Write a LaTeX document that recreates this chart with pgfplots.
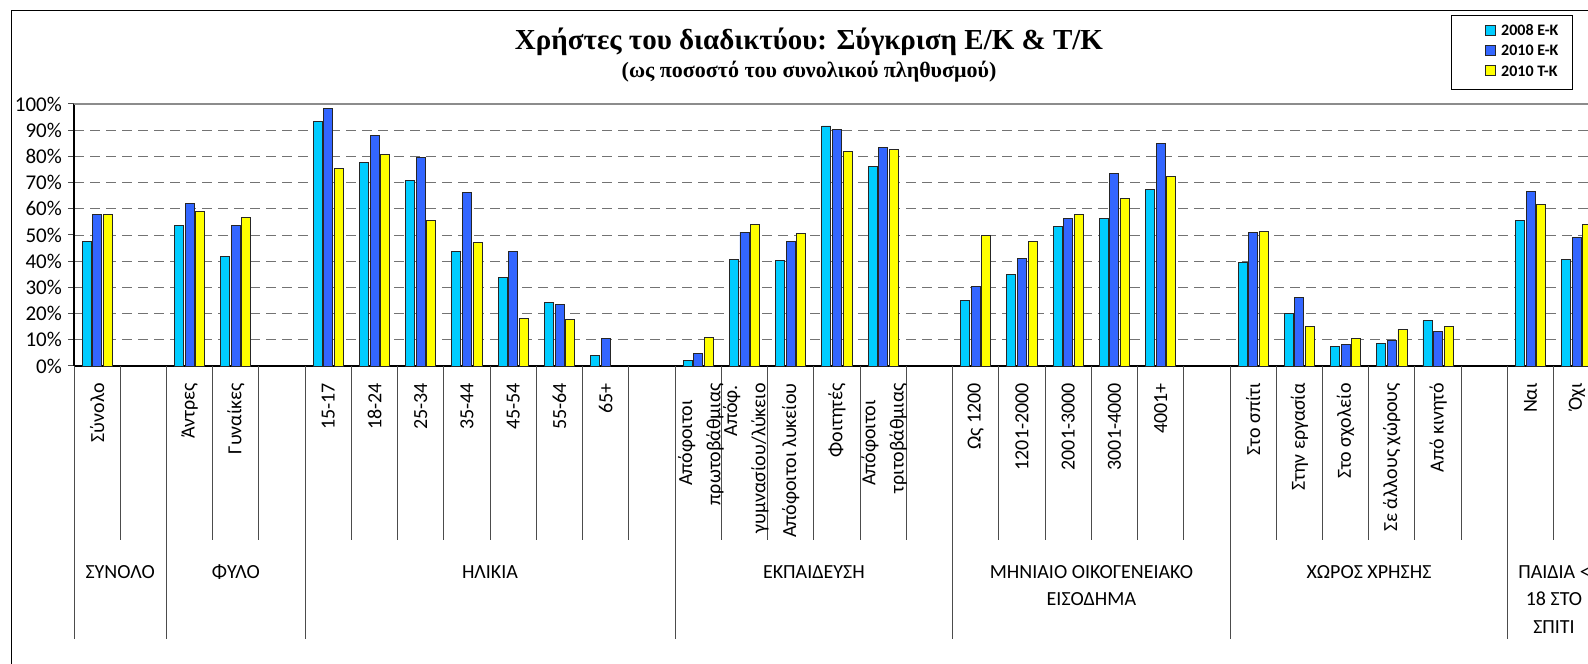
\documentclass[border=0pt]{standalone}
\usepackage{pgfplots}
\pgfplotsset{compat=1.18}
\usepackage{fontspec}
\setmainfont{Carlito}
\newfontfamily\titlefont{Liberation Serif}
\definecolor{c08}{HTML}{00CCFF}
\definecolor{c10}{HTML}{3366FF}
\definecolor{t10}{HTML}{FFFF00}
\newcommand\lbl{\fontsize{20bp}{24bp}\selectfont}

\begin{document}
\begin{tikzpicture}[x=1bp,y=1bp]
\useasboundingbox (0,0) rectangle (1588,664);
\clip (0,0) rectangle (1588,664);
% chart frame
\draw[line width=1bp] (11,-20) -- (11,653) -- (1620,653);

% title
\node[anchor=base, font=\titlefont\bfseries\fontsize{29bp}{34bp}\selectfont] at (809,614)
  {Χρήστες του διαδικτύου: Σύγκριση Ε/Κ \& Τ/Κ};
\node[anchor=base, font=\titlefont\bfseries\fontsize{22bp}{26bp}\selectfont] at (809,586)
  {(ως ποσοστό του συνολικού πληθυσμού)};

\begin{axis}[
  at={(74bp,298bp)}, anchor=south west,
  scale only axis, width=1572.16bp, height=262bp,
  xmin=-0.5, xmax=33.5, ymin=0, ymax=100,
  axis lines*=left,
  axis line style={line width=1.3bp, black},
  xtick=\empty,
  ytick={0,10,...,100},
  yticklabel={\pgfmathprintnumber{\tick}\%},
  /pgf/number format/assume math mode=true,
  yticklabel style={font=\fontsize{21bp}{25bp}\selectfont, anchor=east, inner sep=0pt, xshift=-6bp},
  tick align=outside, major tick length=6bp,
  ytick style={line width=1bp, black!70},
  ymajorgrids,
  grid style={black!55, line width=0.9bp, dash pattern=on 10bp off 6bp},
  ybar=1.6bp, bar width=9bp,
  every axis plot/.append style={draw=black!85, line width=0.9bp},
  clip=false,
]
\addplot[fill=c08] coordinates {
 (0,47.5) (2,53.7) (3,41.7) (5,93.3) (6,77.6) (7,70.9) (8,43.8) (9,33.8) (10,24.4) (11,4.1)
 (13,2.0) (14,40.6) (15,40.1) (16,91.6) (17,76.1)
 (19,24.9) (20,34.9) (21,53.2) (22,56.2) (23,67.2)
 (25,39.6) (26,20.2) (27,7.3) (28,8.7) (29,17.2)
 (31,55.7) (32,40.6)};
\addplot[fill=c10] coordinates {
 (0,57.9) (2,62.1) (3,53.7) (5,98.3) (6,88.0) (7,79.6) (8,66.2) (9,43.8) (10,23.4) (11,10.4)
 (13,4.6) (14,51.0) (15,47.5) (16,90.1) (17,83.3)
 (19,30.2) (20,41.1) (21,56.2) (22,73.4) (23,85.0)
 (25,51.0) (26,26.1) (27,8.3) (28,9.9) (29,13.0)
 (31,66.7) (32,49.0)};
\addplot[fill=t10] coordinates {
 (0,57.9) (2,58.8) (3,56.7) (5,75.4) (6,80.8) (7,55.7) (8,47.3) (9,18.2) (10,17.7)
 (13,10.9) (14,54.1) (15,50.5) (16,81.8) (17,82.7)
 (19,49.9) (20,47.5) (21,57.8) (22,64.0) (23,72.3)
 (25,51.5) (26,15.0) (27,10.4) (28,14.0) (29,15.0)
 (31,61.5) (32,54.1)};
\draw[black!45, line width=1.2bp] (axis cs:-0.5,100) -- (axis cs:33.5,100);
\end{axis}

% legend
\draw[line width=0.8bp, fill=white] (1451,649) rectangle (1572,575);
\foreach \c/\t [count=\i] in {c08/2008 Ε-Κ, c10/2010 Ε-Κ, t10/2010 Τ-Κ} {
  \draw[fill=\c, draw=black!85, line width=0.8bp] (1485,{653.85-20.25*\i-5}) rectangle ++(10,10);
  \node[anchor=west, inner sep=0pt, font=\bfseries\fontsize{16bp}{19bp}\selectfont]
    at (1501,{653.85-20.25*\i}) {\t};
}

% category dividers
\foreach \k in {1,3,4,6,7,8,9,10,11,12,14,15,16,17,18,20,21,22,23,24,26,27,28,29,30,32,33}
  \draw[black!70, line width=1bp] ({74+46.24*\k},298) -- ({74+46.24*\k},124);
\foreach \k in {0,2,5,13,19,25,31,34}
  \draw[black!70, line width=1bp] ({74+46.24*\k},298) -- ({74+46.24*\k},25);

% category labels
\tikzset{cl/.style={rotate=90, anchor=east, inner sep=0pt, font=\lbl}}
\foreach \k/\t in {0/Σύνολο, 2/Άντρες, 3/Γυναίκες, 5/15-17, 6/18-24, 7/25-34, 8/35-44,
  9/45-54, 10/55-64, 11/65+, 15/Απόφοιτοι λυκείου, 16/Φοιτητές, 19/Ως 1200, 20/1201-2000,
  21/2001-3000, 22/3001-4000, 23/4001+, 25/Στο σπίτι, 26/Στην εργασία, 27/Στο σχολείο,
  28/Σε άλλους χώρους, 29/Από κινητό, 31/Ναι, 32/Όχι}
  \node[cl] at ({97.12+46.24*\k},281) {\t};
\node[cl] at (686.7,264) {Απόφοιτοι};
\node[cl] at (715,281) {πρωτοβάθμιας};
\node[cl] at (731.7,279) {Απόφ.};
\node[cl] at (760,281) {γυμνασίου/λύκειο};
\node[cl] at (870,264) {Απόφοιτοι};
\node[cl] at (898.3,281) {τριτοβάθμιας};

% group labels
\tikzset{gl/.style={anchor=base, inner sep=0pt, font=\lbl}}
\node[gl] at (120.2,85.5) {ΣΥΝΟΛΟ};
\node[gl] at (235.8,85.5) {ΦΥΛΟ};
\node[gl] at (490,85.5) {ΗΛΙΚΙΑ};
\node[gl] at (813.9,85.5) {ΕΚΠΑΙΔΕΥΣΗ};
\node[gl] at (1091.4,85.5) {ΜΗΝΙΑΙΟ ΟΙΚΟΓΕΝΕΙΑΚΟ};
\node[gl] at (1091.4,58) {ΕΙΣΟΔΗΜΑ};
\node[gl] at (1369,85.5) {ΧΩΡΟΣ ΧΡΗΣΗΣ};
\node[gl] at (1554,85.5) {ΠΑΙΔΙΑ <};
\node[gl] at (1554,58) {18 ΣΤΟ};
\node[gl] at (1554,30.5) {ΣΠΙΤΙ};
\end{tikzpicture}
\end{document}
